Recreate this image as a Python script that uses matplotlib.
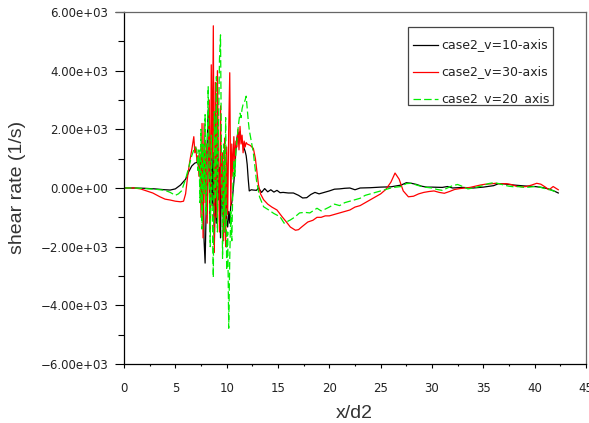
import matplotlib
matplotlib.use("Agg")
import matplotlib.pyplot as plt
from matplotlib.ticker import MultipleLocator, FuncFormatter
from matplotlib.patches import Rectangle
from matplotlib.lines import Line2D

# ---- series: shear rate along the axis for three inlet velocities ----
x_v10 = [0, 1, 2, 3, 4, 4.5, 5, 5.5, 6, 6.3, 6.6, 6.9, 7.2, 7.4,
         7.5, 7.6, 7.7, 7.8, 7.9, 8.0, 8.1, 8.2, 8.3, 8.4, 8.5, 8.6, 8.7, 8.8, 8.9,
         9.0, 9.1, 9.2, 9.3, 9.4, 9.5, 9.6, 9.7, 9.8, 9.9,
         10.0, 10.1, 10.2, 10.3, 10.4, 10.5, 10.6, 10.7, 10.8, 10.9,
         11.0, 11.1, 11.2, 11.3, 11.4, 11.5, 11.6, 11.7, 11.8, 11.9,
         12.0, 12.1, 12.2, 12.4, 12.6, 12.9, 13.1, 13.4, 13.7, 14.0, 14.3, 14.6, 14.9,
         15.2, 15.5, 16.0, 16.5, 17.0, 17.4, 17.8, 18.2, 18.6, 19.0, 19.5, 20.0,
         20.5, 21.0, 21.5, 22.0, 22.5, 23.0, 24.0, 25.0, 26.0, 27.0, 27.5, 28.0,
         28.5, 29.0, 29.5, 30.0, 31.0, 31.5, 32.0, 33.0, 34.0, 35.0, 36.0, 36.5,
         37.0, 37.5, 38.0, 39.0, 40.0, 40.5, 41.0, 41.5, 42.0, 42.3]
y_v10 = [0, 0, -10, -30, -60, -70, -30, 100, 300, 550, 750, 850, 880, 500,
         1100, -600, 800, -1800, -2560, -800, 1500, 2670, 400, -1500, 1800, -600, 1200, -1900, 300,
         -1200, 1600, -400, 700, -1700, 900, -900, 300, -1500, 200,
         -1100, -1330, -800, -1200, -600, -500, -200, 200, 700, 1300,
         1700, 1900, 1800, 1920, 1700, 1600, 1500, 1350, 1250, 1100,
         800, 300, -100, -60, -70, -80, 0, -150, -20, -130, -60, -140, -80,
         -160, -150, -170, -170, -250, -340, -330, -220, -150, -200, -150, -100,
         -40, -30, -10, 0, -60, 0, 10, 30, 40, 100, 180, 160,
         120, 60, 30, 30, 20, 50, 0, 20, 0, 30, 80, 150,
         140, 120, 100, 70, 50, 30, 0, -50, -120, -170]

x_v30 = [0, 1, 1.6, 2.2, 2.8, 3.5, 4.0, 4.5, 5.0, 5.5, 5.8, 6.0, 6.2, 6.4, 6.6, 6.8,
         6.9, 7.0, 7.1, 7.2, 7.3, 7.4, 7.5, 7.6, 7.7, 7.8, 7.9, 8.0, 8.1, 8.2, 8.3,
         8.4, 8.5, 8.6, 8.7, 8.8, 8.9, 9.0, 9.1, 9.2, 9.3, 9.4, 9.5, 9.6, 9.7, 9.8, 9.9,
         10.0, 10.1, 10.2, 10.3, 10.4, 10.5, 10.6, 10.7, 10.8, 10.9,
         11.0, 11.1, 11.2, 11.3, 11.4, 11.5, 11.6, 11.7, 11.8, 11.9,
         12.0, 12.3, 12.6, 12.8, 12.9, 13.1, 13.3, 13.6, 14.0, 14.4, 14.9, 15.4, 15.8,
         16.2, 16.7, 17.0, 17.3, 17.9, 18.4, 18.8, 19.2, 19.6, 20.0, 20.5, 21.0, 21.5,
         22.0, 22.5, 23.0, 23.5, 24.0, 24.5, 25.0, 25.5, 26.0, 26.4, 26.8, 27.2, 27.7,
         28.2, 28.7, 29.2, 29.7, 30.2, 30.7, 31.2, 31.7, 32.2, 32.7, 33.2, 33.7, 34.2,
         34.7, 35.2, 35.7, 36.2, 36.7, 37.2, 37.7, 38.2, 38.7, 39.2, 39.7, 40.2, 40.6,
         41.0, 41.4, 41.8, 42.3]
y_v30 = [0, 0, -30, -100, -170, -300, -380, -410, -450, -470, -450, -200, 400, 900, 1300, 1750,
         1200, 1400, 900, 1100, 400, 1200, -1000, 2200, -1700, 2200, -500, 1500, -1200, 800, 3000,
         -1400, 4200, 1000, 5530, -2200, 3600, -1000, 4000, 800, -1500, 2800, -400, 1200, -1800, 1700, -2000,
         1400, -900, 2000, 3930, -600, 1500, 400, 1750, 900, 1600,
         1400, 2000, 1300, 2100, 1500, 1800, 1200, 1600, 1400, 1550,
         1500, 1450, 1350, 1000, 700, 100, -200, -400, -550, -650, -750, -980, -1150,
         -1330, -1440, -1420, -1330, -1160, -1100, -1000, -1000, -950, -950, -900, -850, -800,
         -750, -650, -600, -500, -400, -300, -200, -50, 200, 510, 300, -100, -300,
         -280, -200, -150, -120, -100, -150, -180, -120, -50, -20, 0, 20, 60,
         100, 130, 140, 160, 140, 150, 120, 60, 40, 50, 100, 160, 130,
         40, -60, 50, -60]

x_v20 = [0, 1, 2, 3, 4, 4.5, 5, 5.3, 5.6, 6.0, 6.3, 6.6, 6.9, 7.1,
         7.2, 7.3, 7.4, 7.5, 7.6, 7.7, 7.8, 7.9, 8.0, 8.1, 8.2, 8.3, 8.4, 8.5, 8.6,
         8.7, 8.8, 8.9, 9.0, 9.1, 9.2, 9.3, 9.4, 9.5, 9.6, 9.7, 9.8, 9.9,
         10.0, 10.1, 10.2, 10.3, 10.4, 10.5, 10.6, 10.7, 10.8, 10.9,
         11.0, 11.1, 11.2, 11.3, 11.4, 11.5, 11.6, 11.7, 11.8, 11.9,
         12.0, 12.1, 12.2, 12.4, 12.6, 12.8, 12.9, 13.2, 13.6, 14.1, 14.6, 15.2, 15.6,
         16.2, 16.6, 17.1, 17.6, 18.1, 18.8, 19.2, 19.6, 20.0, 20.5, 21.0, 21.5, 22.0,
         22.5, 23.0, 23.5, 24.0, 24.5, 25.0, 25.5, 26.0, 26.5, 27.0, 27.5, 28.0, 28.5,
         29.0, 29.5, 30.0, 30.5, 31.0, 31.5, 32.0, 32.5, 33.0, 33.5, 34.0, 35.0, 35.5,
         36.0, 36.5, 37.0, 37.5, 38.0, 38.5, 39.0, 39.5, 40.0, 40.5, 41.0, 41.5, 42.0, 42.3]
y_v20 = [0, 0, -20, -40, -80, -150, -250, -200, -100, 300, 700, 1100, 1400, 1300,
         600, 1300, -500, 2000, -1400, 1500, -200, 2500, -900, 1000, 3450, 500, -2000, 1800, -800,
         -3050, 2600, -400, 3800, -1500, 2000, 4400, 5220, 800, -2400, 1500, -1500, 2400,
         -2800, -1500, -4780, -2400, -800, -1800, 0, 900, 400, 1300,
         1600, 2000, 2300, 2550, 2400, 2700, 2850, 2900, 3000, 3130,
         2700, 2300, 1980, 1580, 1200, 600, 270, -300, -640, -750, -870, -980, -1200,
         -1090, -1000, -850, -830, -850, -690, -780, -720, -650, -550, -600, -500, -450,
         -400, -350, -250, -200, -150, -100, -50, 0, 30, 50, 150, 160, 100,
         50, 20, 0, -50, -80, 0, 80, 120, 50, -30, 0, 80, 150,
         180, 150, 100, 60, 40, 50, 20, 30, 50, 30, -20, -60, -120, -150]

series_labels = ["case2_v=10-axis", "case2_v=30-axis", "case2_v=20_axis"]
series_colors = ["#000000", "#ff0000", "#00ee00"]
y_ticks = [-6000, -4000, -2000, 0, 2000, 4000, 6000]
x_ticks = [0, 5, 10, 15, 20, 25, 30, 35, 40, 45]

W, H = 589, 423
fig = plt.figure(figsize=(W / 100, H / 100), dpi=100)
ax = fig.add_axes([124 / W, 1 - 364 / H, (586 - 124) / W, (364 - 12) / H])

lw = 0.9
ax.plot(x_v10, y_v10, color=series_colors[0], lw=lw)
ax.plot(x_v30, y_v30, color=series_colors[1], lw=lw)
ax.plot(x_v20, y_v20, color=series_colors[2], lw=lw, linestyle=(0, (6, 2.5)))

ax.set_xlim(0, 45)
ax.set_ylim(-6000, 6000)
ax.set_xticks(x_ticks)
ax.set_yticks(y_ticks)
ax.xaxis.set_minor_locator(MultipleLocator(2.5))
ax.yaxis.set_minor_locator(MultipleLocator(1000))


def sci_label(v, pos):
    s = f"{v:.2e}"
    return s.replace("-", "\u2212", 1) if s.startswith("-") else s


ax.yaxis.set_major_formatter(FuncFormatter(sci_label))

tick_font = "DejaVu Sans"
ax.tick_params(axis="y", which="major", direction="out", length=6.5, width=0.8,
               pad=5, labelsize=8.5, labelcolor="#222222")
ax.tick_params(axis="y", which="minor", direction="out", length=4, width=0.8)
ax.tick_params(axis="x", which="major", direction="out", length=3, width=0.8,
               pad=10, labelsize=8.5, labelcolor="#222222")
ax.tick_params(axis="x", which="minor", direction="out", length=1.7, width=0.8)
for lab in ax.get_xticklabels() + ax.get_yticklabels():
    lab.set_fontfamily(tick_font)

for side in ("left", "bottom"):
    ax.spines[side].set_color("#000000")
    ax.spines[side].set_linewidth(0.9)
for side in ("top", "right"):
    ax.spines[side].set_color("#666666")
    ax.spines[side].set_linewidth(0.9)

# top frame line runs a little past the left axis
fig.add_artist(Line2D([116 / W, 124 / W], [1 - 12 / H, 1 - 12 / H],
                      color="#666666", lw=0.9))

label_font = ["Liberation Sans", "DejaVu Sans"]
fig.text(18 / W, 1 - 187 / H, "shear rate (1/s)", rotation=90, ha="center",
         va="center", fontsize=14, family=label_font, color="#333333")
fig.text(354 / W, 1 - 413 / H, "x/d2", ha="center", va="center",
         fontsize=14, family=label_font, color="#333333")

# legend box with sample lines and clipped labels
box = Rectangle((408 / W, 1 - 105 / H), 145 / W, 78 / H, transform=fig.transFigure,
                facecolor="white", edgecolor="#444444", lw=0.9, zorder=5)
fig.add_artist(box)
row_y = [45, 72, 99]
styles = ["-", "-", (0, (6, 2.5))]
for yy, lbl, col, ls in zip(row_y, series_labels, series_colors, styles):
    yf = 1 - yy / H
    fig.add_artist(Line2D([413 / W, 438 / W], [yf, yf], color=col, lw=lw,
                          linestyle=ls, zorder=6))
    t = fig.text(441 / W, yf, lbl, ha="left", va="center", fontsize=9,
                 family=tick_font, color="#222222", zorder=6)
    t.set_clip_path(box)

fig.savefig("out.png", dpi=100)
